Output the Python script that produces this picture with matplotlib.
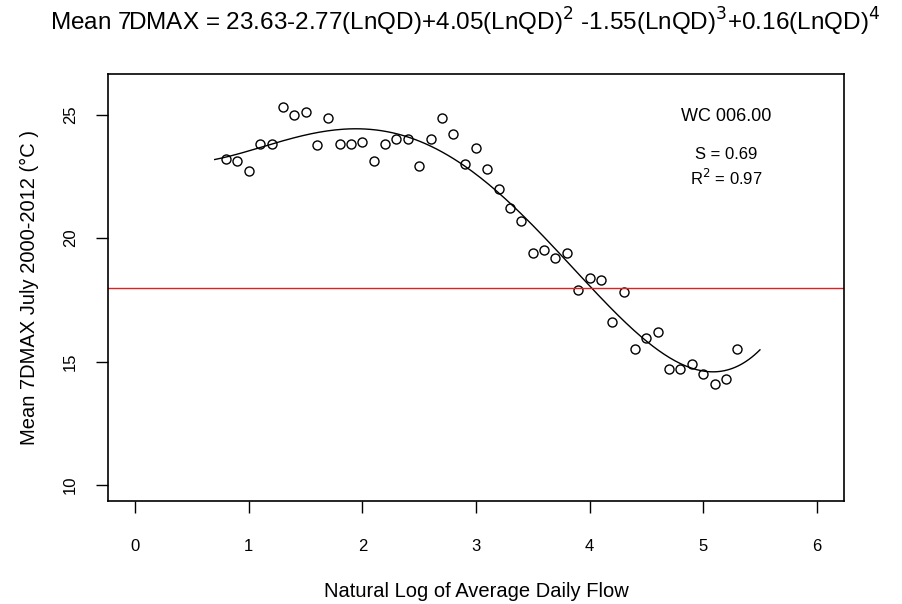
import numpy as np
import matplotlib.pyplot as plt

plt.rcParams['font.family'] = ['Liberation Sans', 'DejaVu Sans']

# log of average daily flow and mean 7DMAX for station WC 006.00
ln_qd = [0.8, 0.9, 1.0, 1.1, 1.2, 1.3, 1.4, 1.5, 1.6, 1.7,
         1.8, 1.9, 2.0, 2.1, 2.2, 2.3, 2.4, 2.5, 2.6, 2.7,
         2.8, 2.9, 3.0, 3.1, 3.2, 3.3, 3.4, 3.5, 3.6, 3.7,
         3.8, 3.9, 4.0, 4.1, 4.2, 4.3, 4.4, 4.5, 4.6, 4.7,
         4.8, 4.9, 5.0, 5.1, 5.2, 5.3]
temp_7dmax = [23.2, 23.1, 22.7, 23.8, 23.8, 25.3, 25.0, 25.1, 23.75, 24.85,
              23.8, 23.8, 23.9, 23.1, 23.8, 24.0, 24.0, 22.9, 24.0, 24.85,
              24.2, 23.0, 23.65, 22.8, 22.0, 21.2, 20.7, 19.4, 19.5, 19.2,
              19.4, 17.9, 18.4, 18.3, 16.6, 17.8, 15.5, 15.95, 16.2, 14.7,
              14.7, 14.9, 14.5, 14.1, 14.3, 15.5]
criterio = 18

x = np.array(ln_qd)
y = np.array(temp_7dmax)

# ajuste polinomial de cuarto grado
coef = np.polyfit(x, y, 4)
xs = np.linspace(0.7, 5.5, 200)
ys = np.polyval(coef, xs)

fig = plt.figure(figsize=(9.02, 6.04), dpi=100)
ax = fig.add_axes([0.1197, 0.1705, 0.816, 0.707])

ax.plot(x, y, 'o', mfc='none', mec='black', ms=6.5, mew=1)
ax.plot(xs, ys, color='black', lw=1)
ax.axhline(criterio, color='#e02020', lw=1)

ax.set_xlim(-0.24, 6.24)
ax.set_ylim(9.36, 26.64)
ax.set_xticks([0, 1, 2, 3, 4, 5, 6])
ax.set_yticks([10, 15, 20, 25])
ax.tick_params(length=8.6, width=1, labelsize=12)
ax.tick_params(axis='x', pad=19)
ax.tick_params(axis='y', pad=13)
for lab in ax.get_yticklabels():
    lab.set_rotation(90)
    lab.set_va('center')
for s in ax.spines.values():
    s.set_linewidth(1.2)

ax.set_xlabel('Natural Log of Average Daily Flow', fontsize=14.5, labelpad=20)
ax.set_ylabel('Mean 7DMAX July 2000-2012 (°C )', fontsize=14.5, labelpad=17)

ax.text(5.2, 24.9, 'WC 006.00', ha='center', va='center', fontsize=13)
ax.text(5.2, 23.4, 'S = 0.69', ha='center', va='center', fontsize=12)
ax.text(5.2, 22.43, r'R$^2$ = 0.97', ha='center', va='center', fontsize=12)

fig.text(50 / 902, 1 - 22 / 604,
         r'Mean 7DMAX = 23.63-2.77(LnQD)+4.05(LnQD)$^2$ -1.55(LnQD)$^3$+0.16(LnQD)$^4$',
         ha='left', va='center', fontsize=17.5)

plt.savefig('out.png', dpi=100)
